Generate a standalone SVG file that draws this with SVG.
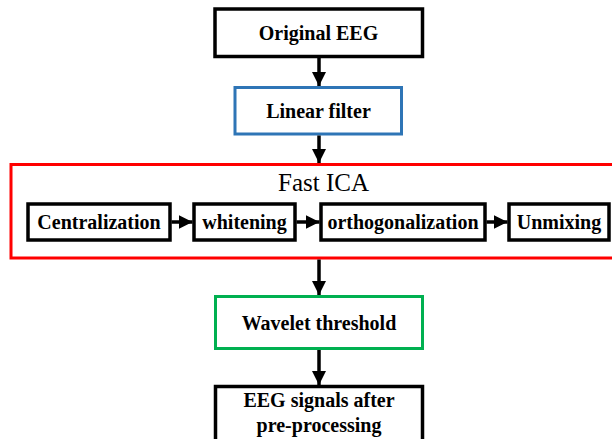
<svg xmlns="http://www.w3.org/2000/svg" width="612" height="439" viewBox="0 0 612 439">
<defs>
<marker id="ah" markerUnits="userSpaceOnUse" markerWidth="14" markerHeight="14" viewBox="0 0 14 14" refX="14" refY="7" orient="auto">
<path d="M0,0 L14,7 L0,14 Z" fill="#000"/>
</marker>
</defs>
<style>
.box{fill:#fff;stroke:#000;stroke-width:3.5}
.blue{fill:#fff;stroke:#2E75B6;stroke-width:3}
.green{fill:#fff;stroke:#00B050;stroke-width:3}
.red{fill:none;stroke:#FF0000;stroke-width:3}
.t{font-family:"Liberation Serif","Times New Roman",serif;font-weight:bold;font-size:20px;text-anchor:middle;fill:#000}
.title{font-family:"Liberation Serif","Times New Roman",serif;font-size:25px;text-anchor:middle;fill:#000}
.c{stroke:#000;stroke-width:3.5;fill:none;marker-end:url(#ah)}
</style>
<rect width="612" height="439" fill="#fff"/>
<g id="fastica">
<rect class="red" x="11" y="164.5" width="606" height="93.5"/>
<text class="title" x="323.5" y="191">Fast ICA</text>
</g>
<g id="original">
<rect class="box" x="215" y="9" width="207.5" height="47.5"/>
<text class="t" x="318.5" y="39.5">Original EEG</text>
</g>
<g id="linear">
<rect class="blue" x="235" y="87.5" width="166.5" height="46.5"/>
<text class="t" x="318.5" y="117.5">Linear filter</text>
</g>
<g id="centralization">
<rect class="box" x="28" y="204" width="142" height="36"/>
<text class="t" x="99" y="229">Centralization</text>
</g>
<g id="whitening">
<rect class="box" x="194" y="204" width="101" height="36"/>
<text class="t" x="244.5" y="229">whitening</text>
</g>
<g id="orthogonalization">
<rect class="box" x="321" y="204" width="164" height="36"/>
<text class="t" x="403" y="229">orthogonalization</text>
</g>
<g id="unmixing">
<rect class="box" x="509" y="204" width="100" height="36"/>
<text class="t" x="559" y="229">Unmixing</text>
</g>
<g id="wavelet">
<rect class="green" x="215.5" y="296.5" width="207" height="52"/>
<text class="t" x="319" y="329.5">Wavelet threshold</text>
</g>
<g id="output">
<rect class="box" x="215.5" y="386.5" width="207" height="60"/>
<text class="t" x="319" y="407">EEG signals after</text>
<text class="t" x="319" y="432">pre-processing</text>
</g>
<g id="connectors">
<line class="c" x1="319" y1="58" x2="319" y2="86"/>
<line class="c" x1="319" y1="135.5" x2="319" y2="163"/>
<line class="c" x1="319" y1="259.5" x2="319" y2="295"/>
<line class="c" x1="319" y1="350" x2="319" y2="385"/>
<line class="c" x1="171.5" y1="222" x2="192.5" y2="222"/>
<line class="c" x1="296.5" y1="222" x2="319.5" y2="222"/>
<line class="c" x1="486.5" y1="222" x2="507.5" y2="222"/>
</g>
</svg>
